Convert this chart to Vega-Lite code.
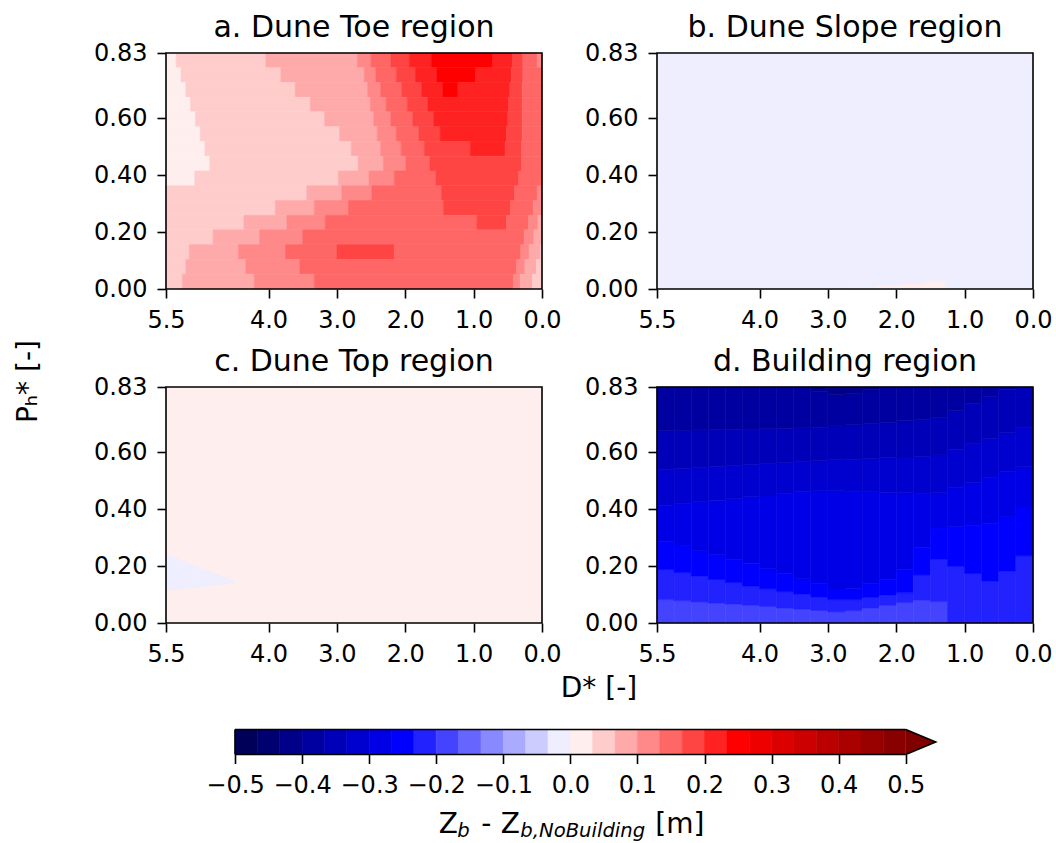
{
"$schema":"https://vega.github.io/schema/vega-lite/v6.json",
"autosize":{"type":"pad"},
"padding":{"left":14,"top":13,"right":0,"bottom":0},
"background":"white",
"config":{"font":"DejaVu Sans","view":{"stroke":null},
"axis":{"domain":false,"grid":false,"tickColor":"black","tickWidth":1.6,"tickSize":9,"labelFont":"DejaVu Sans","labelFontSize":24,"labelColor":"black","labelPadding":10,"labelFlush":false,"labelOverlap":false,"title":null},
"title":{"font":"DejaVu Sans","fontSize":30,"fontWeight":"normal","color":"black","offset":-2,"anchor":"middle","baseline":"alphabetic"}},
"datasets":{
"cells":[
{"p":"a","x":5.5,"x2":5.35,"y":0.778,"y2":0.83,"z":0.017},{"p":"a","x":5.35,"x2":4.04,"y":0.778,"y2":0.83,"z":0.05},{"p":"a","x":4.04,"x2":2.7,"y":0.778,"y2":0.83,"z":0.083},{"p":"a","x":2.7,"x2":2.5,"y":0.778,"y2":0.83,"z":0.117},{"p":"a","x":2.5,"x2":2.21,"y":0.778,"y2":0.83,"z":0.15},{"p":"a","x":2.21,"x2":1.94,"y":0.778,"y2":0.83,"z":0.183},{"p":"a","x":1.94,"x2":1.62,"y":0.778,"y2":0.83,"z":0.217},{"p":"a","x":1.62,"x2":0.72,"y":0.778,"y2":0.83,"z":0.25},{"p":"a","x":0.72,"x2":0.43,"y":0.778,"y2":0.83,"z":0.217},{"p":"a","x":0.43,"x2":0.28,"y":0.778,"y2":0.83,"z":0.183},{"p":"a","x":0.28,"x2":0.07,"y":0.778,"y2":0.83,"z":0.15},{"p":"a","x":0.07,"x2":0,"y":0.778,"y2":0.83,"z":0.117},
{"p":"a","x":5.5,"x2":5.28,"y":0.726,"y2":0.778,"z":0.017},{"p":"a","x":5.28,"x2":3.82,"y":0.726,"y2":0.778,"z":0.05},{"p":"a","x":3.82,"x2":2.6,"y":0.726,"y2":0.778,"z":0.083},{"p":"a","x":2.6,"x2":2.43,"y":0.726,"y2":0.778,"z":0.117},{"p":"a","x":2.43,"x2":2.13,"y":0.726,"y2":0.778,"z":0.15},{"p":"a","x":2.13,"x2":1.85,"y":0.726,"y2":0.778,"z":0.183},{"p":"a","x":1.85,"x2":1.54,"y":0.726,"y2":0.778,"z":0.217},{"p":"a","x":1.54,"x2":0.97,"y":0.726,"y2":0.778,"z":0.25},{"p":"a","x":0.97,"x2":0.45,"y":0.726,"y2":0.778,"z":0.217},{"p":"a","x":0.45,"x2":0.28,"y":0.726,"y2":0.778,"z":0.183},{"p":"a","x":0.28,"x2":0,"y":0.726,"y2":0.778,"z":0.15},
{"p":"a","x":5.5,"x2":5.21,"y":0.674,"y2":0.726,"z":0.017},{"p":"a","x":5.21,"x2":3.61,"y":0.674,"y2":0.726,"z":0.05},{"p":"a","x":3.61,"x2":2.55,"y":0.674,"y2":0.726,"z":0.083},{"p":"a","x":2.55,"x2":2.36,"y":0.674,"y2":0.726,"z":0.117},{"p":"a","x":2.36,"x2":2.05,"y":0.674,"y2":0.726,"z":0.15},{"p":"a","x":2.05,"x2":1.76,"y":0.674,"y2":0.726,"z":0.183},{"p":"a","x":1.76,"x2":1.45,"y":0.674,"y2":0.726,"z":0.217},{"p":"a","x":1.45,"x2":1.23,"y":0.674,"y2":0.726,"z":0.25},{"p":"a","x":1.23,"x2":0.47,"y":0.674,"y2":0.726,"z":0.217},{"p":"a","x":0.47,"x2":0.29,"y":0.674,"y2":0.726,"z":0.183},{"p":"a","x":0.29,"x2":0,"y":0.674,"y2":0.726,"z":0.15},
{"p":"a","x":5.5,"x2":5.14,"y":0.623,"y2":0.674,"z":0.017},{"p":"a","x":5.14,"x2":3.39,"y":0.623,"y2":0.674,"z":0.05},{"p":"a","x":3.39,"x2":2.51,"y":0.623,"y2":0.674,"z":0.083},{"p":"a","x":2.51,"x2":2.28,"y":0.623,"y2":0.674,"z":0.117},{"p":"a","x":2.28,"x2":1.97,"y":0.623,"y2":0.674,"z":0.15},{"p":"a","x":1.97,"x2":1.67,"y":0.623,"y2":0.674,"z":0.183},{"p":"a","x":1.67,"x2":0.49,"y":0.623,"y2":0.674,"z":0.217},{"p":"a","x":0.49,"x2":0.29,"y":0.623,"y2":0.674,"z":0.183},{"p":"a","x":0.29,"x2":0,"y":0.623,"y2":0.674,"z":0.15},
{"p":"a","x":5.5,"x2":5.07,"y":0.571,"y2":0.623,"z":0.017},{"p":"a","x":5.07,"x2":3.18,"y":0.571,"y2":0.623,"z":0.05},{"p":"a","x":3.18,"x2":2.46,"y":0.571,"y2":0.623,"z":0.083},{"p":"a","x":2.46,"x2":2.21,"y":0.571,"y2":0.623,"z":0.117},{"p":"a","x":2.21,"x2":1.89,"y":0.571,"y2":0.623,"z":0.15},{"p":"a","x":1.89,"x2":1.58,"y":0.571,"y2":0.623,"z":0.183},{"p":"a","x":1.58,"x2":0.5,"y":0.571,"y2":0.623,"z":0.217},{"p":"a","x":0.5,"x2":0.29,"y":0.571,"y2":0.623,"z":0.183},{"p":"a","x":0.29,"x2":0,"y":0.571,"y2":0.623,"z":0.15},
{"p":"a","x":5.5,"x2":5.0,"y":0.519,"y2":0.571,"z":0.017},{"p":"a","x":5.0,"x2":2.96,"y":0.519,"y2":0.571,"z":0.05},{"p":"a","x":2.96,"x2":2.41,"y":0.519,"y2":0.571,"z":0.083},{"p":"a","x":2.41,"x2":2.13,"y":0.519,"y2":0.571,"z":0.117},{"p":"a","x":2.13,"x2":1.8,"y":0.519,"y2":0.571,"z":0.15},{"p":"a","x":1.8,"x2":1.49,"y":0.519,"y2":0.571,"z":0.183},{"p":"a","x":1.49,"x2":0.52,"y":0.519,"y2":0.571,"z":0.217},{"p":"a","x":0.52,"x2":0.29,"y":0.519,"y2":0.571,"z":0.183},{"p":"a","x":0.29,"x2":0,"y":0.519,"y2":0.571,"z":0.15},
{"p":"a","x":5.5,"x2":4.93,"y":0.467,"y2":0.519,"z":0.017},{"p":"a","x":4.93,"x2":2.79,"y":0.467,"y2":0.519,"z":0.05},{"p":"a","x":2.79,"x2":2.36,"y":0.467,"y2":0.519,"z":0.083},{"p":"a","x":2.36,"x2":2.06,"y":0.467,"y2":0.519,"z":0.117},{"p":"a","x":2.06,"x2":1.72,"y":0.467,"y2":0.519,"z":0.15},{"p":"a","x":1.72,"x2":1.05,"y":0.467,"y2":0.519,"z":0.183},{"p":"a","x":1.05,"x2":0.54,"y":0.467,"y2":0.519,"z":0.217},{"p":"a","x":0.54,"x2":0.3,"y":0.467,"y2":0.519,"z":0.183},{"p":"a","x":0.3,"x2":0,"y":0.467,"y2":0.519,"z":0.15},
{"p":"a","x":5.5,"x2":4.86,"y":0.415,"y2":0.467,"z":0.017},{"p":"a","x":4.86,"x2":2.69,"y":0.415,"y2":0.467,"z":0.05},{"p":"a","x":2.69,"x2":2.32,"y":0.415,"y2":0.467,"z":0.083},{"p":"a","x":2.32,"x2":1.99,"y":0.415,"y2":0.467,"z":0.117},{"p":"a","x":1.99,"x2":1.64,"y":0.415,"y2":0.467,"z":0.15},{"p":"a","x":1.64,"x2":0.3,"y":0.415,"y2":0.467,"z":0.183},{"p":"a","x":0.3,"x2":0,"y":0.415,"y2":0.467,"z":0.15},
{"p":"a","x":5.5,"x2":5.08,"y":0.363,"y2":0.415,"z":0.017},{"p":"a","x":5.08,"x2":2.98,"y":0.363,"y2":0.415,"z":0.05},{"p":"a","x":2.98,"x2":2.53,"y":0.363,"y2":0.415,"z":0.083},{"p":"a","x":2.53,"x2":2.16,"y":0.363,"y2":0.415,"z":0.117},{"p":"a","x":2.16,"x2":1.55,"y":0.363,"y2":0.415,"z":0.15},{"p":"a","x":1.55,"x2":0.34,"y":0.363,"y2":0.415,"z":0.183},{"p":"a","x":0.34,"x2":0,"y":0.363,"y2":0.415,"z":0.15},
{"p":"a","x":5.5,"x2":3.44,"y":0.311,"y2":0.363,"z":0.05},{"p":"a","x":3.44,"x2":2.93,"y":0.311,"y2":0.363,"z":0.083},{"p":"a","x":2.93,"x2":2.49,"y":0.311,"y2":0.363,"z":0.117},{"p":"a","x":2.49,"x2":1.47,"y":0.311,"y2":0.363,"z":0.15},{"p":"a","x":1.47,"x2":0.4,"y":0.311,"y2":0.363,"z":0.183},{"p":"a","x":0.4,"x2":0.07,"y":0.311,"y2":0.363,"z":0.15},{"p":"a","x":0.07,"x2":0,"y":0.311,"y2":0.363,"z":0.117},
{"p":"a","x":5.5,"x2":3.9,"y":0.259,"y2":0.311,"z":0.05},{"p":"a","x":3.9,"x2":3.33,"y":0.259,"y2":0.311,"z":0.083},{"p":"a","x":3.33,"x2":2.83,"y":0.259,"y2":0.311,"z":0.117},{"p":"a","x":2.83,"x2":1.44,"y":0.259,"y2":0.311,"z":0.15},{"p":"a","x":1.44,"x2":0.46,"y":0.259,"y2":0.311,"z":0.183},{"p":"a","x":0.46,"x2":0.13,"y":0.259,"y2":0.311,"z":0.15},{"p":"a","x":0.13,"x2":0,"y":0.259,"y2":0.311,"z":0.117},
{"p":"a","x":5.5,"x2":4.36,"y":0.208,"y2":0.259,"z":0.05},{"p":"a","x":4.36,"x2":3.73,"y":0.208,"y2":0.259,"z":0.083},{"p":"a","x":3.73,"x2":3.17,"y":0.208,"y2":0.259,"z":0.117},{"p":"a","x":3.17,"x2":0.95,"y":0.208,"y2":0.259,"z":0.15},{"p":"a","x":0.95,"x2":0.52,"y":0.208,"y2":0.259,"z":0.183},{"p":"a","x":0.52,"x2":0.2,"y":0.208,"y2":0.259,"z":0.15},{"p":"a","x":0.2,"x2":0.06,"y":0.208,"y2":0.259,"z":0.117},{"p":"a","x":0.06,"x2":0,"y":0.208,"y2":0.259,"z":0.083},
{"p":"a","x":5.5,"x2":4.81,"y":0.156,"y2":0.208,"z":0.05},{"p":"a","x":4.81,"x2":4.13,"y":0.156,"y2":0.208,"z":0.083},{"p":"a","x":4.13,"x2":3.5,"y":0.156,"y2":0.208,"z":0.117},{"p":"a","x":3.5,"x2":0.26,"y":0.156,"y2":0.208,"z":0.15},{"p":"a","x":0.26,"x2":0.12,"y":0.156,"y2":0.208,"z":0.117},{"p":"a","x":0.12,"x2":0,"y":0.156,"y2":0.208,"z":0.083},
{"p":"a","x":5.5,"x2":5.16,"y":0.104,"y2":0.156,"z":0.05},{"p":"a","x":5.16,"x2":4.44,"y":0.104,"y2":0.156,"z":0.083},{"p":"a","x":4.44,"x2":3.75,"y":0.104,"y2":0.156,"z":0.117},{"p":"a","x":3.75,"x2":3.0,"y":0.104,"y2":0.156,"z":0.15},{"p":"a","x":3.0,"x2":2.16,"y":0.104,"y2":0.156,"z":0.183},{"p":"a","x":2.16,"x2":0.31,"y":0.104,"y2":0.156,"z":0.15},{"p":"a","x":0.31,"x2":0.19,"y":0.104,"y2":0.156,"z":0.117},{"p":"a","x":0.19,"x2":0.02,"y":0.104,"y2":0.156,"z":0.083},{"p":"a","x":0.02,"x2":0,"y":0.104,"y2":0.156,"z":0.05},
{"p":"a","x":5.5,"x2":5.21,"y":0.052,"y2":0.104,"z":0.05},{"p":"a","x":5.21,"x2":4.33,"y":0.052,"y2":0.104,"z":0.083},{"p":"a","x":4.33,"x2":3.54,"y":0.052,"y2":0.104,"z":0.117},{"p":"a","x":3.54,"x2":0.37,"y":0.052,"y2":0.104,"z":0.15},{"p":"a","x":0.37,"x2":0.25,"y":0.052,"y2":0.104,"z":0.117},{"p":"a","x":0.25,"x2":0.08,"y":0.052,"y2":0.104,"z":0.083},{"p":"a","x":0.08,"x2":0,"y":0.052,"y2":0.104,"z":0.05},
{"p":"a","x":5.5,"x2":5.26,"y":0,"y2":0.052,"z":0.05},{"p":"a","x":5.26,"x2":4.21,"y":0,"y2":0.052,"z":0.083},{"p":"a","x":4.21,"x2":3.33,"y":0,"y2":0.052,"z":0.117},{"p":"a","x":3.33,"x2":0.42,"y":0,"y2":0.052,"z":0.15},{"p":"a","x":0.42,"x2":0.32,"y":0,"y2":0.052,"z":0.117},{"p":"a","x":0.32,"x2":0.14,"y":0,"y2":0.052,"z":0.083},{"p":"a","x":0.14,"x2":0,"y":0,"y2":0.052,"z":0.05},
{"p":"b","x":5.5,"x2":0,"y":0,"y2":0.83,"z":-0.017},
{"p":"b","x":2.71,"x2":2.3,"y":0,"y2":0.004,"z":0.017},{"p":"b","x":2.3,"x2":1.9,"y":0,"y2":0.01,"z":0.017},{"p":"b","x":1.9,"x2":1.6,"y":0,"y2":0.018,"z":0.017},{"p":"b","x":1.6,"x2":1.29,"y":0,"y2":0.026,"z":0.017},
{"p":"c","x":5.5,"x2":0,"y":0,"y2":0.83,"z":0.017},
{"p":"c","x":5.5,"x2":5.4,"y":0.116,"y2":0.236,"z":-0.017},{"p":"c","x":5.4,"x2":5.3,"y":0.118,"y2":0.227,"z":-0.017},{"p":"c","x":5.3,"x2":5.2,"y":0.121,"y2":0.217,"z":-0.017},{"p":"c","x":5.2,"x2":5.1,"y":0.123,"y2":0.208,"z":-0.017},{"p":"c","x":5.1,"x2":5.0,"y":0.125,"y2":0.198,"z":-0.017},{"p":"c","x":5.0,"x2":4.9,"y":0.128,"y2":0.189,"z":-0.017},{"p":"c","x":4.9,"x2":4.8,"y":0.131,"y2":0.18,"z":-0.017},{"p":"c","x":4.8,"x2":4.7,"y":0.134,"y2":0.17,"z":-0.017},{"p":"c","x":4.7,"x2":4.6,"y":0.137,"y2":0.161,"z":-0.017},{"p":"c","x":4.6,"x2":4.5,"y":0.14,"y2":0.151,"z":-0.017},
{"p":"d","x":5.5,"x2":5.25,"y":0,"y2":0.082,"z":-0.183},{"p":"d","x":5.5,"x2":5.25,"y":0.082,"y2":0.188,"z":-0.217},{"p":"d","x":5.5,"x2":5.25,"y":0.188,"y2":0.287,"z":-0.25},{"p":"d","x":5.5,"x2":5.25,"y":0.287,"y2":0.414,"z":-0.283},{"p":"d","x":5.5,"x2":5.25,"y":0.414,"y2":0.54,"z":-0.317},{"p":"d","x":5.5,"x2":5.25,"y":0.54,"y2":0.676,"z":-0.35},{"p":"d","x":5.5,"x2":5.25,"y":0.676,"y2":0.83,"z":-0.383},
{"p":"d","x":5.25,"x2":5.0,"y":0,"y2":0.078,"z":-0.183},{"p":"d","x":5.25,"x2":5.0,"y":0.078,"y2":0.177,"z":-0.217},{"p":"d","x":5.25,"x2":5.0,"y":0.177,"y2":0.271,"z":-0.25},{"p":"d","x":5.25,"x2":5.0,"y":0.271,"y2":0.42,"z":-0.283},{"p":"d","x":5.25,"x2":5.0,"y":0.42,"y2":0.544,"z":-0.317},{"p":"d","x":5.25,"x2":5.0,"y":0.544,"y2":0.677,"z":-0.35},{"p":"d","x":5.25,"x2":5.0,"y":0.677,"y2":0.83,"z":-0.383},
{"p":"d","x":5.0,"x2":4.75,"y":0,"y2":0.074,"z":-0.183},{"p":"d","x":5.0,"x2":4.75,"y":0.074,"y2":0.165,"z":-0.217},{"p":"d","x":5.0,"x2":4.75,"y":0.165,"y2":0.255,"z":-0.25},{"p":"d","x":5.0,"x2":4.75,"y":0.255,"y2":0.426,"z":-0.283},{"p":"d","x":5.0,"x2":4.75,"y":0.426,"y2":0.547,"z":-0.317},{"p":"d","x":5.0,"x2":4.75,"y":0.547,"y2":0.679,"z":-0.35},{"p":"d","x":5.0,"x2":4.75,"y":0.679,"y2":0.83,"z":-0.383},
{"p":"d","x":4.75,"x2":4.5,"y":0,"y2":0.07,"z":-0.183},{"p":"d","x":4.75,"x2":4.5,"y":0.07,"y2":0.153,"z":-0.217},{"p":"d","x":4.75,"x2":4.5,"y":0.153,"y2":0.24,"z":-0.25},{"p":"d","x":4.75,"x2":4.5,"y":0.24,"y2":0.432,"z":-0.283},{"p":"d","x":4.75,"x2":4.5,"y":0.432,"y2":0.551,"z":-0.317},{"p":"d","x":4.75,"x2":4.5,"y":0.551,"y2":0.68,"z":-0.35},{"p":"d","x":4.75,"x2":4.5,"y":0.68,"y2":0.83,"z":-0.383},
{"p":"d","x":4.5,"x2":4.25,"y":0,"y2":0.066,"z":-0.183},{"p":"d","x":4.5,"x2":4.25,"y":0.066,"y2":0.142,"z":-0.217},{"p":"d","x":4.5,"x2":4.25,"y":0.142,"y2":0.224,"z":-0.25},{"p":"d","x":4.5,"x2":4.25,"y":0.224,"y2":0.438,"z":-0.283},{"p":"d","x":4.5,"x2":4.25,"y":0.438,"y2":0.554,"z":-0.317},{"p":"d","x":4.5,"x2":4.25,"y":0.554,"y2":0.681,"z":-0.35},{"p":"d","x":4.5,"x2":4.25,"y":0.681,"y2":0.83,"z":-0.383},
{"p":"d","x":4.25,"x2":4.0,"y":0,"y2":0.062,"z":-0.183},{"p":"d","x":4.25,"x2":4.0,"y":0.062,"y2":0.13,"z":-0.217},{"p":"d","x":4.25,"x2":4.0,"y":0.13,"y2":0.208,"z":-0.25},{"p":"d","x":4.25,"x2":4.0,"y":0.208,"y2":0.444,"z":-0.283},{"p":"d","x":4.25,"x2":4.0,"y":0.444,"y2":0.558,"z":-0.317},{"p":"d","x":4.25,"x2":4.0,"y":0.558,"y2":0.682,"z":-0.35},{"p":"d","x":4.25,"x2":4.0,"y":0.682,"y2":0.83,"z":-0.383},
{"p":"d","x":4.0,"x2":3.75,"y":0,"y2":0.058,"z":-0.183},{"p":"d","x":4.0,"x2":3.75,"y":0.058,"y2":0.12,"z":-0.217},{"p":"d","x":4.0,"x2":3.75,"y":0.12,"y2":0.191,"z":-0.25},{"p":"d","x":4.0,"x2":3.75,"y":0.191,"y2":0.45,"z":-0.283},{"p":"d","x":4.0,"x2":3.75,"y":0.45,"y2":0.561,"z":-0.317},{"p":"d","x":4.0,"x2":3.75,"y":0.561,"y2":0.684,"z":-0.35},{"p":"d","x":4.0,"x2":3.75,"y":0.684,"y2":0.83,"z":-0.383},
{"p":"d","x":3.75,"x2":3.5,"y":0,"y2":0.053,"z":-0.183},{"p":"d","x":3.75,"x2":3.5,"y":0.053,"y2":0.11,"z":-0.217},{"p":"d","x":3.75,"x2":3.5,"y":0.11,"y2":0.173,"z":-0.25},{"p":"d","x":3.75,"x2":3.5,"y":0.173,"y2":0.456,"z":-0.283},{"p":"d","x":3.75,"x2":3.5,"y":0.456,"y2":0.565,"z":-0.317},{"p":"d","x":3.75,"x2":3.5,"y":0.565,"y2":0.685,"z":-0.35},{"p":"d","x":3.75,"x2":3.5,"y":0.685,"y2":0.83,"z":-0.383},
{"p":"d","x":3.5,"x2":3.25,"y":0,"y2":0.049,"z":-0.183},{"p":"d","x":3.5,"x2":3.25,"y":0.049,"y2":0.101,"z":-0.217},{"p":"d","x":3.5,"x2":3.25,"y":0.101,"y2":0.156,"z":-0.25},{"p":"d","x":3.5,"x2":3.25,"y":0.156,"y2":0.462,"z":-0.283},{"p":"d","x":3.5,"x2":3.25,"y":0.462,"y2":0.568,"z":-0.317},{"p":"d","x":3.5,"x2":3.25,"y":0.568,"y2":0.686,"z":-0.35},{"p":"d","x":3.5,"x2":3.25,"y":0.686,"y2":0.83,"z":-0.383},
{"p":"d","x":3.25,"x2":3.0,"y":0,"y2":0.044,"z":-0.183},{"p":"d","x":3.25,"x2":3.0,"y":0.044,"y2":0.091,"z":-0.217},{"p":"d","x":3.25,"x2":3.0,"y":0.091,"y2":0.138,"z":-0.25},{"p":"d","x":3.25,"x2":3.0,"y":0.138,"y2":0.466,"z":-0.283},{"p":"d","x":3.25,"x2":3.0,"y":0.466,"y2":0.571,"z":-0.317},{"p":"d","x":3.25,"x2":3.0,"y":0.571,"y2":0.688,"z":-0.35},{"p":"d","x":3.25,"x2":3.0,"y":0.688,"y2":0.815,"z":-0.383},{"p":"d","x":3.25,"x2":3.0,"y":0.815,"y2":0.83,"z":-0.417},
{"p":"d","x":3.0,"x2":2.75,"y":0,"y2":0.039,"z":-0.183},{"p":"d","x":3.0,"x2":2.75,"y":0.039,"y2":0.082,"z":-0.217},{"p":"d","x":3.0,"x2":2.75,"y":0.082,"y2":0.12,"z":-0.25},{"p":"d","x":3.0,"x2":2.75,"y":0.12,"y2":0.465,"z":-0.283},{"p":"d","x":3.0,"x2":2.75,"y":0.465,"y2":0.574,"z":-0.317},{"p":"d","x":3.0,"x2":2.75,"y":0.574,"y2":0.693,"z":-0.35},{"p":"d","x":3.0,"x2":2.75,"y":0.693,"y2":0.803,"z":-0.383},{"p":"d","x":3.0,"x2":2.75,"y":0.803,"y2":0.83,"z":-0.417},
{"p":"d","x":2.75,"x2":2.5,"y":0,"y2":0.043,"z":-0.183},{"p":"d","x":2.75,"x2":2.5,"y":0.043,"y2":0.082,"z":-0.217},{"p":"d","x":2.75,"x2":2.5,"y":0.082,"y2":0.122,"z":-0.25},{"p":"d","x":2.75,"x2":2.5,"y":0.122,"y2":0.463,"z":-0.283},{"p":"d","x":2.75,"x2":2.5,"y":0.463,"y2":0.576,"z":-0.317},{"p":"d","x":2.75,"x2":2.5,"y":0.576,"y2":0.697,"z":-0.35},{"p":"d","x":2.75,"x2":2.5,"y":0.697,"y2":0.806,"z":-0.383},{"p":"d","x":2.75,"x2":2.5,"y":0.806,"y2":0.83,"z":-0.417},
{"p":"d","x":2.5,"x2":2.25,"y":0,"y2":0.052,"z":-0.183},{"p":"d","x":2.5,"x2":2.25,"y":0.052,"y2":0.09,"z":-0.217},{"p":"d","x":2.5,"x2":2.25,"y":0.09,"y2":0.138,"z":-0.25},{"p":"d","x":2.5,"x2":2.25,"y":0.138,"y2":0.461,"z":-0.283},{"p":"d","x":2.5,"x2":2.25,"y":0.461,"y2":0.579,"z":-0.317},{"p":"d","x":2.5,"x2":2.25,"y":0.579,"y2":0.702,"z":-0.35},{"p":"d","x":2.5,"x2":2.25,"y":0.702,"y2":0.82,"z":-0.383},{"p":"d","x":2.5,"x2":2.25,"y":0.82,"y2":0.83,"z":-0.417},
{"p":"d","x":2.25,"x2":2.0,"y":0,"y2":0.062,"z":-0.183},{"p":"d","x":2.25,"x2":2.0,"y":0.062,"y2":0.098,"z":-0.217},{"p":"d","x":2.25,"x2":2.0,"y":0.098,"y2":0.154,"z":-0.25},{"p":"d","x":2.25,"x2":2.0,"y":0.154,"y2":0.46,"z":-0.283},{"p":"d","x":2.25,"x2":2.0,"y":0.46,"y2":0.581,"z":-0.317},{"p":"d","x":2.25,"x2":2.0,"y":0.581,"y2":0.706,"z":-0.35},{"p":"d","x":2.25,"x2":2.0,"y":0.706,"y2":0.83,"z":-0.383},
{"p":"d","x":2.0,"x2":1.75,"y":0,"y2":0.072,"z":-0.183},{"p":"d","x":2.0,"x2":1.75,"y":0.072,"y2":0.106,"z":-0.217},{"p":"d","x":2.0,"x2":1.75,"y":0.106,"y2":0.187,"z":-0.25},{"p":"d","x":2.0,"x2":1.75,"y":0.187,"y2":0.458,"z":-0.283},{"p":"d","x":2.0,"x2":1.75,"y":0.458,"y2":0.584,"z":-0.317},{"p":"d","x":2.0,"x2":1.75,"y":0.584,"y2":0.711,"z":-0.35},{"p":"d","x":2.0,"x2":1.75,"y":0.711,"y2":0.83,"z":-0.383},
{"p":"d","x":1.75,"x2":1.5,"y":0,"y2":0.081,"z":-0.183},{"p":"d","x":1.75,"x2":1.5,"y":0.081,"y2":0.169,"z":-0.217},{"p":"d","x":1.75,"x2":1.5,"y":0.169,"y2":0.266,"z":-0.25},{"p":"d","x":1.75,"x2":1.5,"y":0.266,"y2":0.456,"z":-0.283},{"p":"d","x":1.75,"x2":1.5,"y":0.456,"y2":0.586,"z":-0.317},{"p":"d","x":1.75,"x2":1.5,"y":0.586,"y2":0.716,"z":-0.35},{"p":"d","x":1.75,"x2":1.5,"y":0.716,"y2":0.83,"z":-0.383},
{"p":"d","x":1.5,"x2":1.25,"y":0,"y2":0.075,"z":-0.183},{"p":"d","x":1.5,"x2":1.25,"y":0.075,"y2":0.225,"z":-0.217},{"p":"d","x":1.5,"x2":1.25,"y":0.225,"y2":0.334,"z":-0.25},{"p":"d","x":1.5,"x2":1.25,"y":0.334,"y2":0.458,"z":-0.283},{"p":"d","x":1.5,"x2":1.25,"y":0.458,"y2":0.591,"z":-0.317},{"p":"d","x":1.5,"x2":1.25,"y":0.591,"y2":0.723,"z":-0.35},{"p":"d","x":1.5,"x2":1.25,"y":0.723,"y2":0.83,"z":-0.383},
{"p":"d","x":1.25,"x2":1.0,"y":0,"y2":0.199,"z":-0.217},{"p":"d","x":1.25,"x2":1.0,"y":0.199,"y2":0.339,"z":-0.25},{"p":"d","x":1.25,"x2":1.0,"y":0.339,"y2":0.476,"z":-0.283},{"p":"d","x":1.25,"x2":1.0,"y":0.476,"y2":0.611,"z":-0.317},{"p":"d","x":1.25,"x2":1.0,"y":0.611,"y2":0.748,"z":-0.35},{"p":"d","x":1.25,"x2":1.0,"y":0.748,"y2":0.83,"z":-0.383},
{"p":"d","x":1.0,"x2":0.75,"y":0,"y2":0.174,"z":-0.217},{"p":"d","x":1.0,"x2":0.75,"y":0.174,"y2":0.344,"z":-0.25},{"p":"d","x":1.0,"x2":0.75,"y":0.344,"y2":0.495,"z":-0.283},{"p":"d","x":1.0,"x2":0.75,"y":0.495,"y2":0.63,"z":-0.317},{"p":"d","x":1.0,"x2":0.75,"y":0.63,"y2":0.773,"z":-0.35},{"p":"d","x":1.0,"x2":0.75,"y":0.773,"y2":0.83,"z":-0.383},
{"p":"d","x":0.75,"x2":0.5,"y":0,"y2":0.148,"z":-0.217},{"p":"d","x":0.75,"x2":0.5,"y":0.148,"y2":0.349,"z":-0.25},{"p":"d","x":0.75,"x2":0.5,"y":0.349,"y2":0.513,"z":-0.283},{"p":"d","x":0.75,"x2":0.5,"y":0.513,"y2":0.65,"z":-0.317},{"p":"d","x":0.75,"x2":0.5,"y":0.65,"y2":0.797,"z":-0.35},{"p":"d","x":0.75,"x2":0.5,"y":0.797,"y2":0.83,"z":-0.383},
{"p":"d","x":0.5,"x2":0.25,"y":0,"y2":0.182,"z":-0.217},{"p":"d","x":0.5,"x2":0.25,"y":0.182,"y2":0.373,"z":-0.25},{"p":"d","x":0.5,"x2":0.25,"y":0.373,"y2":0.532,"z":-0.283},{"p":"d","x":0.5,"x2":0.25,"y":0.532,"y2":0.669,"z":-0.317},{"p":"d","x":0.5,"x2":0.25,"y":0.669,"y2":0.822,"z":-0.35},{"p":"d","x":0.5,"x2":0.25,"y":0.822,"y2":0.83,"z":-0.383},
{"p":"d","x":0.25,"x2":0,"y":0,"y2":0.236,"z":-0.217},{"p":"d","x":0.25,"x2":0,"y":0.236,"y2":0.408,"z":-0.25},{"p":"d","x":0.25,"x2":0,"y":0.408,"y2":0.55,"z":-0.283},{"p":"d","x":0.25,"x2":0,"y":0.55,"y2":0.689,"z":-0.317},{"p":"d","x":0.25,"x2":0,"y":0.689,"y2":0.83,"z":-0.35}
],
"cbar":[
{"lo":-0.5,"hi":-0.4667,"z":-0.483},{"lo":-0.4667,"hi":-0.4333,"z":-0.45},{"lo":-0.4333,"hi":-0.4,"z":-0.417},{"lo":-0.4,"hi":-0.3667,"z":-0.383},{"lo":-0.3667,"hi":-0.3333,"z":-0.35},{"lo":-0.3333,"hi":-0.3,"z":-0.317},{"lo":-0.3,"hi":-0.2667,"z":-0.283},{"lo":-0.2667,"hi":-0.2333,"z":-0.25},{"lo":-0.2333,"hi":-0.2,"z":-0.217},{"lo":-0.2,"hi":-0.1667,"z":-0.183},{"lo":-0.1667,"hi":-0.1333,"z":-0.15},{"lo":-0.1333,"hi":-0.1,"z":-0.117},{"lo":-0.1,"hi":-0.0667,"z":-0.083},{"lo":-0.0667,"hi":-0.0333,"z":-0.05},{"lo":-0.0333,"hi":0,"z":-0.017},
{"lo":0,"hi":0.0333,"z":0.017},{"lo":0.0333,"hi":0.0667,"z":0.05},{"lo":0.0667,"hi":0.1,"z":0.083},{"lo":0.1,"hi":0.1333,"z":0.117},{"lo":0.1333,"hi":0.1667,"z":0.15},{"lo":0.1667,"hi":0.2,"z":0.183},{"lo":0.2,"hi":0.2333,"z":0.217},{"lo":0.2333,"hi":0.2667,"z":0.25},{"lo":0.2667,"hi":0.3,"z":0.283},{"lo":0.3,"hi":0.3333,"z":0.317},{"lo":0.3333,"hi":0.3667,"z":0.35},{"lo":0.3667,"hi":0.4,"z":0.383},{"lo":0.4,"hi":0.4333,"z":0.417},{"lo":0.4333,"hi":0.4667,"z":0.45},{"lo":0.4667,"hi":0.5,"z":0.483}
]},
"title":{"text":"Pₕ*  [-]","orient":"left","anchor":"middle","fontSize":28,"offset":23,"baseline":"bottom","dx":45},
"vconcat":[
{"vconcat":[
{"hconcat":[
{"width":376,"height":236,"title":"a. Dune Toe region","layer":[
{"data":{"name":"cells"},"transform":[{"filter":"datum.p=='a'"}],"mark":{"type":"rect","strokeWidth":0.6},
"encoding":{"x":{"field":"x","type":"quantitative","scale":{"domain":[0,5.5],"reverse":true,"nice":false,"zero":false},"axis":{"values":[5.5,4,3,2,1,0],"format":".1f"}},"x2":{"field":"x2"},
"y":{"field":"y","type":"quantitative","scale":{"domain":[0,0.83],"nice":false,"zero":false},"axis":{"values":[0,0.2,0.4,0.6,0.83],"format":".2f"}},"y2":{"field":"y2"},
"color":{"field":"z","type":"quantitative","legend":null,"scale":{"type":"threshold","domain":[-0.4667,-0.4333,-0.4,-0.3667,-0.3333,-0.3,-0.2667,-0.2333,-0.2,-0.1667,-0.1333,-0.1,-0.0667,-0.0333,0,0.0333,0.0667,0.1,0.1333,0.1667,0.2,0.2333,0.2667,0.3,0.3333,0.3667,0.4,0.4333,0.4667,0.5],"range":["#000058","#000070","#000088","#0000a0","#0000b8","#0000cf","#0000e7","#0000ff","#2222ff","#4444ff","#6666ff","#8888ff","#aaaaff","#ccccff","#eeeeff","#ffeeee","#ffcccc","#ffaaaa","#ff8888","#ff6666","#ff4444","#ff2222","#ff0000","#ee0000","#dd0000","#cc0000","#bb0000","#aa0000","#990000","#880000","#800000"]}},
"stroke":{"field":"z","type":"quantitative","legend":null,"scale":{"type":"threshold","domain":[-0.4667,-0.4333,-0.4,-0.3667,-0.3333,-0.3,-0.2667,-0.2333,-0.2,-0.1667,-0.1333,-0.1,-0.0667,-0.0333,0,0.0333,0.0667,0.1,0.1333,0.1667,0.2,0.2333,0.2667,0.3,0.3333,0.3667,0.4,0.4333,0.4667,0.5],"range":["#000058","#000070","#000088","#0000a0","#0000b8","#0000cf","#0000e7","#0000ff","#2222ff","#4444ff","#6666ff","#8888ff","#aaaaff","#ccccff","#eeeeff","#ffeeee","#ffcccc","#ffaaaa","#ff8888","#ff6666","#ff4444","#ff2222","#ff0000","#ee0000","#dd0000","#cc0000","#bb0000","#aa0000","#990000","#880000","#800000"]}}}},
{"data":{"values":[{}]},"mark":{"type":"rect","filled":false,"color":"black","strokeWidth":1.6},"encoding":{"x":{"datum":5.5},"x2":{"datum":0},"y":{"datum":0},"y2":{"datum":0.83}}}
]},
{"width":376,"height":236,"title":"b. Dune Slope region","layer":[
{"data":{"name":"cells"},"transform":[{"filter":"datum.p=='b'"}],"mark":{"type":"rect","strokeWidth":0.6},
"encoding":{"x":{"field":"x","type":"quantitative","scale":{"domain":[0,5.5],"reverse":true,"nice":false,"zero":false},"axis":{"values":[5.5,4,3,2,1,0],"format":".1f"}},"x2":{"field":"x2"},
"y":{"field":"y","type":"quantitative","scale":{"domain":[0,0.83],"nice":false,"zero":false},"axis":{"values":[0,0.2,0.4,0.6,0.83],"format":".2f"}},"y2":{"field":"y2"},
"color":{"field":"z","type":"quantitative","legend":null,"scale":{"type":"threshold","domain":[-0.4667,-0.4333,-0.4,-0.3667,-0.3333,-0.3,-0.2667,-0.2333,-0.2,-0.1667,-0.1333,-0.1,-0.0667,-0.0333,0,0.0333,0.0667,0.1,0.1333,0.1667,0.2,0.2333,0.2667,0.3,0.3333,0.3667,0.4,0.4333,0.4667,0.5],"range":["#000058","#000070","#000088","#0000a0","#0000b8","#0000cf","#0000e7","#0000ff","#2222ff","#4444ff","#6666ff","#8888ff","#aaaaff","#ccccff","#eeeeff","#ffeeee","#ffcccc","#ffaaaa","#ff8888","#ff6666","#ff4444","#ff2222","#ff0000","#ee0000","#dd0000","#cc0000","#bb0000","#aa0000","#990000","#880000","#800000"]}},
"stroke":{"field":"z","type":"quantitative","legend":null,"scale":{"type":"threshold","domain":[-0.4667,-0.4333,-0.4,-0.3667,-0.3333,-0.3,-0.2667,-0.2333,-0.2,-0.1667,-0.1333,-0.1,-0.0667,-0.0333,0,0.0333,0.0667,0.1,0.1333,0.1667,0.2,0.2333,0.2667,0.3,0.3333,0.3667,0.4,0.4333,0.4667,0.5],"range":["#000058","#000070","#000088","#0000a0","#0000b8","#0000cf","#0000e7","#0000ff","#2222ff","#4444ff","#6666ff","#8888ff","#aaaaff","#ccccff","#eeeeff","#ffeeee","#ffcccc","#ffaaaa","#ff8888","#ff6666","#ff4444","#ff2222","#ff0000","#ee0000","#dd0000","#cc0000","#bb0000","#aa0000","#990000","#880000","#800000"]}}}},
{"data":{"values":[{}]},"mark":{"type":"rect","filled":false,"color":"black","strokeWidth":1.6},"encoding":{"x":{"datum":5.5},"x2":{"datum":0},"y":{"datum":0},"y2":{"datum":0.83}}}
]}
],"spacing":22},
{"hconcat":[
{"width":376,"height":236,"title":"c. Dune Top region","layer":[
{"data":{"name":"cells"},"transform":[{"filter":"datum.p=='c'"}],"mark":{"type":"rect","strokeWidth":0.6},
"encoding":{"x":{"field":"x","type":"quantitative","scale":{"domain":[0,5.5],"reverse":true,"nice":false,"zero":false},"axis":{"values":[5.5,4,3,2,1,0],"format":".1f"}},"x2":{"field":"x2"},
"y":{"field":"y","type":"quantitative","scale":{"domain":[0,0.83],"nice":false,"zero":false},"axis":{"values":[0,0.2,0.4,0.6,0.83],"format":".2f"}},"y2":{"field":"y2"},
"color":{"field":"z","type":"quantitative","legend":null,"scale":{"type":"threshold","domain":[-0.4667,-0.4333,-0.4,-0.3667,-0.3333,-0.3,-0.2667,-0.2333,-0.2,-0.1667,-0.1333,-0.1,-0.0667,-0.0333,0,0.0333,0.0667,0.1,0.1333,0.1667,0.2,0.2333,0.2667,0.3,0.3333,0.3667,0.4,0.4333,0.4667,0.5],"range":["#000058","#000070","#000088","#0000a0","#0000b8","#0000cf","#0000e7","#0000ff","#2222ff","#4444ff","#6666ff","#8888ff","#aaaaff","#ccccff","#eeeeff","#ffeeee","#ffcccc","#ffaaaa","#ff8888","#ff6666","#ff4444","#ff2222","#ff0000","#ee0000","#dd0000","#cc0000","#bb0000","#aa0000","#990000","#880000","#800000"]}},
"stroke":{"field":"z","type":"quantitative","legend":null,"scale":{"type":"threshold","domain":[-0.4667,-0.4333,-0.4,-0.3667,-0.3333,-0.3,-0.2667,-0.2333,-0.2,-0.1667,-0.1333,-0.1,-0.0667,-0.0333,0,0.0333,0.0667,0.1,0.1333,0.1667,0.2,0.2333,0.2667,0.3,0.3333,0.3667,0.4,0.4333,0.4667,0.5],"range":["#000058","#000070","#000088","#0000a0","#0000b8","#0000cf","#0000e7","#0000ff","#2222ff","#4444ff","#6666ff","#8888ff","#aaaaff","#ccccff","#eeeeff","#ffeeee","#ffcccc","#ffaaaa","#ff8888","#ff6666","#ff4444","#ff2222","#ff0000","#ee0000","#dd0000","#cc0000","#bb0000","#aa0000","#990000","#880000","#800000"]}}}},
{"data":{"values":[{}]},"mark":{"type":"rect","filled":false,"color":"black","strokeWidth":1.6},"encoding":{"x":{"datum":5.5},"x2":{"datum":0},"y":{"datum":0},"y2":{"datum":0.83}}}
]},
{"width":376,"height":236,"title":"d. Building region","layer":[
{"data":{"name":"cells"},"transform":[{"filter":"datum.p=='d'"}],"mark":{"type":"rect","strokeWidth":0.6},
"encoding":{"x":{"field":"x","type":"quantitative","scale":{"domain":[0,5.5],"reverse":true,"nice":false,"zero":false},"axis":{"values":[5.5,4,3,2,1,0],"format":".1f"}},"x2":{"field":"x2"},
"y":{"field":"y","type":"quantitative","scale":{"domain":[0,0.83],"nice":false,"zero":false},"axis":{"values":[0,0.2,0.4,0.6,0.83],"format":".2f"}},"y2":{"field":"y2"},
"color":{"field":"z","type":"quantitative","legend":null,"scale":{"type":"threshold","domain":[-0.4667,-0.4333,-0.4,-0.3667,-0.3333,-0.3,-0.2667,-0.2333,-0.2,-0.1667,-0.1333,-0.1,-0.0667,-0.0333,0,0.0333,0.0667,0.1,0.1333,0.1667,0.2,0.2333,0.2667,0.3,0.3333,0.3667,0.4,0.4333,0.4667,0.5],"range":["#000058","#000070","#000088","#0000a0","#0000b8","#0000cf","#0000e7","#0000ff","#2222ff","#4444ff","#6666ff","#8888ff","#aaaaff","#ccccff","#eeeeff","#ffeeee","#ffcccc","#ffaaaa","#ff8888","#ff6666","#ff4444","#ff2222","#ff0000","#ee0000","#dd0000","#cc0000","#bb0000","#aa0000","#990000","#880000","#800000"]}},
"stroke":{"field":"z","type":"quantitative","legend":null,"scale":{"type":"threshold","domain":[-0.4667,-0.4333,-0.4,-0.3667,-0.3333,-0.3,-0.2667,-0.2333,-0.2,-0.1667,-0.1333,-0.1,-0.0667,-0.0333,0,0.0333,0.0667,0.1,0.1333,0.1667,0.2,0.2333,0.2667,0.3,0.3333,0.3667,0.4,0.4333,0.4667,0.5],"range":["#000058","#000070","#000088","#0000a0","#0000b8","#0000cf","#0000e7","#0000ff","#2222ff","#4444ff","#6666ff","#8888ff","#aaaaff","#ccccff","#eeeeff","#ffeeee","#ffcccc","#ffaaaa","#ff8888","#ff6666","#ff4444","#ff2222","#ff0000","#ee0000","#dd0000","#cc0000","#bb0000","#aa0000","#990000","#880000","#800000"]}}}},
{"data":{"values":[{}]},"mark":{"type":"rect","filled":false,"color":"black","strokeWidth":1.6},"encoding":{"x":{"datum":5.5},"x2":{"datum":0},"y":{"datum":0},"y2":{"datum":0.83}}}
]}
],"spacing":22}
],"spacing":15},
{"width":866,"height":33.5,"title":{"text":"D*  [-]","fontSize":28,"offset":18.5},
"layer":[
{"data":{"name":"cbar"},"mark":{"type":"rect","strokeWidth":0.6},
"encoding":{"x":{"field":"lo","type":"quantitative","scale":{"domain":[-0.6029,0.6883],"nice":false,"zero":false},"axis":{"values":[-0.5,-0.4,-0.3,-0.2,-0.1,0,0.1,0.2,0.3,0.4,0.5],"format":".1f"}},"x2":{"field":"hi"},
"y":{"datum":0,"type":"quantitative","scale":{"domain":[0,1.34],"nice":false,"zero":false},"axis":null},"y2":{"datum":1},
"color":{"field":"z","type":"quantitative","legend":null,"scale":{"type":"threshold","domain":[-0.4667,-0.4333,-0.4,-0.3667,-0.3333,-0.3,-0.2667,-0.2333,-0.2,-0.1667,-0.1333,-0.1,-0.0667,-0.0333,0,0.0333,0.0667,0.1,0.1333,0.1667,0.2,0.2333,0.2667,0.3,0.3333,0.3667,0.4,0.4333,0.4667,0.5],"range":["#000058","#000070","#000088","#0000a0","#0000b8","#0000cf","#0000e7","#0000ff","#2222ff","#4444ff","#6666ff","#8888ff","#aaaaff","#ccccff","#eeeeff","#ffeeee","#ffcccc","#ffaaaa","#ff8888","#ff6666","#ff4444","#ff2222","#ff0000","#ee0000","#dd0000","#cc0000","#bb0000","#aa0000","#990000","#880000","#800000"]}},
"stroke":{"field":"z","type":"quantitative","legend":null,"scale":{"type":"threshold","domain":[-0.4667,-0.4333,-0.4,-0.3667,-0.3333,-0.3,-0.2667,-0.2333,-0.2,-0.1667,-0.1333,-0.1,-0.0667,-0.0333,0,0.0333,0.0667,0.1,0.1333,0.1667,0.2,0.2333,0.2667,0.3,0.3333,0.3667,0.4,0.4333,0.4667,0.5],"range":["#000058","#000070","#000088","#0000a0","#0000b8","#0000cf","#0000e7","#0000ff","#2222ff","#4444ff","#6666ff","#8888ff","#aaaaff","#ccccff","#eeeeff","#ffeeee","#ffcccc","#ffaaaa","#ff8888","#ff6666","#ff4444","#ff2222","#ff0000","#ee0000","#dd0000","#cc0000","#bb0000","#aa0000","#990000","#880000","#800000"]}}}},
{"data":{"values":[{"v":0.5,"z":0.55}]},"mark":{"type":"point","shape":"M 0 -1 L 2.4 0 L 0 1","size":625,"filled":true,"opacity":1,"stroke":"black","strokeWidth":1.6},
"encoding":{"x":{"field":"v","type":"quantitative"},"y":{"datum":0.5},
"fill":{"field":"z","type":"quantitative","legend":null,"scale":{"type":"threshold","domain":[-0.4667,-0.4333,-0.4,-0.3667,-0.3333,-0.3,-0.2667,-0.2333,-0.2,-0.1667,-0.1333,-0.1,-0.0667,-0.0333,0,0.0333,0.0667,0.1,0.1333,0.1667,0.2,0.2333,0.2667,0.3,0.3333,0.3667,0.4,0.4333,0.4667,0.5],"range":["#000058","#000070","#000088","#0000a0","#0000b8","#0000cf","#0000e7","#0000ff","#2222ff","#4444ff","#6666ff","#8888ff","#aaaaff","#ccccff","#eeeeff","#ffeeee","#ffcccc","#ffaaaa","#ff8888","#ff6666","#ff4444","#ff2222","#ff0000","#ee0000","#dd0000","#cc0000","#bb0000","#aa0000","#990000","#880000","#800000"]}}}},
{"data":{"values":[{}]},"mark":{"type":"rule","color":"black","strokeWidth":1.6},"encoding":{"x":{"datum":-0.5},"x2":{"datum":0.5},"y":{"datum":1}}},
{"data":{"values":[{}]},"mark":{"type":"rule","color":"black","strokeWidth":1.6},"encoding":{"x":{"datum":-0.5},"x2":{"datum":0.5},"y":{"datum":0}}},
{"data":{"values":[{}]},"mark":{"type":"rule","color":"black","strokeWidth":1.6},"encoding":{"x":{"datum":-0.5},"y":{"datum":0},"y2":{"datum":1}}},
{"data":{"values":[{}]},"mark":{"type":"text","align":"left","baseline":"alphabetic","fontSize":28,"dx":-131.7,"dy":78},"encoding":{"x":{"datum":0},"y":{"datum":0},"text":{"value":"Z"}}},
{"data":{"values":[{}]},"mark":{"type":"text","align":"left","baseline":"alphabetic","fontSize":19.6,"fontStyle":"italic","dx":-113,"dy":82},"encoding":{"x":{"datum":0},"y":{"datum":0},"text":{"value":"b"}}},
{"data":{"values":[{}]},"mark":{"type":"text","align":"left","baseline":"alphabetic","fontSize":28,"dx":-89,"dy":78},"encoding":{"x":{"datum":0},"y":{"datum":0},"text":{"value":"-"}}},
{"data":{"values":[{}]},"mark":{"type":"text","align":"left","baseline":"alphabetic","fontSize":28,"dx":-69.5,"dy":78},"encoding":{"x":{"datum":0},"y":{"datum":0},"text":{"value":"Z"}}},
{"data":{"values":[{}]},"mark":{"type":"text","align":"left","baseline":"alphabetic","fontSize":19.6,"fontStyle":"italic","dx":-50,"dy":82},"encoding":{"x":{"datum":0},"y":{"datum":0},"text":{"value":"b,NoBuilding"}}},
{"data":{"values":[{}]},"mark":{"type":"text","align":"left","baseline":"alphabetic","fontSize":28,"dx":85,"dy":78},"encoding":{"x":{"datum":0},"y":{"datum":0},"text":{"value":"[m]"}}}
]}
],"spacing":8}
